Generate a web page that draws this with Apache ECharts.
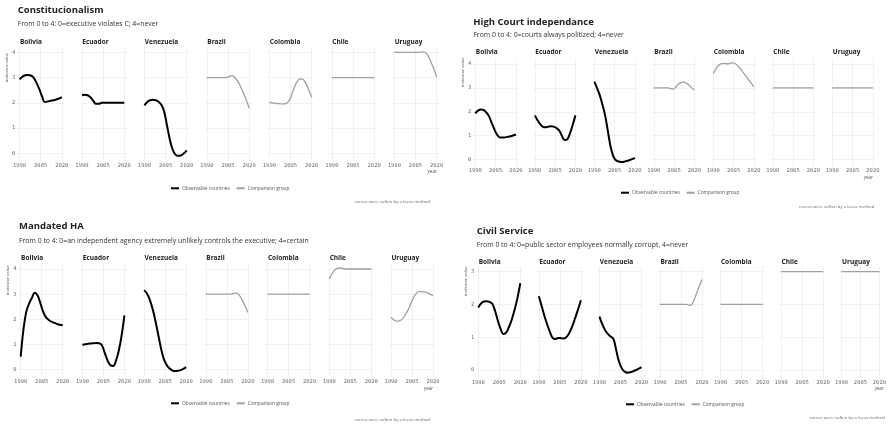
<!DOCTYPE html>
<html>
<head>
<meta charset="utf-8">
<script src="https://cdn.jsdelivr.net/npm/echarts@6/dist/echarts.min.js"></script>
<style>
  html, body { margin: 0; background: #fff; }
  #chart { width: 889px; height: 424px; }
</style>
</head>
<body>
<div id="chart"></div>
<script>
// every curve is sampled every two years
const years = [1990, 1992, 1994, 1996, 1998, 2000, 2002, 2004, 2006, 2008, 2010, 2012, 2014, 2016, 2018, 2020]
const countries = ['Bolivia', 'Ecuador', 'Venezuela', 'Brazil', 'Colombia', 'Chile', 'Uruguay']
const observableCountries = ['Bolivia', 'Ecuador', 'Venezuela']
const xTicks = [1990, 2005, 2020]
const yTicksFour = [0, 1, 2, 3, 4]
const yTicksThree = [0, 1, 2, 3]

// rows follow the countries order
const constitucionalism = [
  [2.93, 3.03, 3.09, 3.1, 3.08, 3.0, 2.8, 2.55, 2.25, 2.03, 2.05, 2.08, 2.1, 2.13, 2.17, 2.22],
  [2.3, 2.32, 2.3, 2.22, 2.08, 1.96, 1.96, 2.0, 2.0, 2.0, 2.0, 2.0, 2.0, 2.0, 2.0, 2.0],
  [1.9, 2.03, 2.1, 2.12, 2.1, 2.04, 1.92, 1.65, 1.1, 0.55, 0.15, -0.05, -0.1, -0.08, 0.0, 0.12],
  [3.0, 3.0, 3.0, 3.0, 3.0, 3.0, 3.0, 3.0, 3.05, 3.08, 2.98, 2.85, 2.62, 2.38, 2.1, 1.78],
  [2.03, 2.0, 1.98, 1.97, 1.96, 1.96, 1.98, 2.08, 2.35, 2.65, 2.87, 2.95, 2.92, 2.75, 2.5, 2.22],
  [3.0, 3.0, 3.0, 3.0, 3.0, 3.0, 3.0, 3.0, 3.0, 3.0, 3.0, 3.0, 3.0, 3.0, 3.0, 3.0],
  [4.0, 4.0, 4.0, 4.0, 4.0, 4.0, 4.0, 4.0, 4.0, 4.0, 4.02, 4.0, 3.85, 3.62, 3.35, 3.02]
]
const highCourt = [
  [1.93, 2.05, 2.1, 2.08, 1.98, 1.83, 1.55, 1.28, 1.05, 0.93, 0.92, 0.93, 0.95, 0.98, 1.01, 1.05],
  [1.85, 1.65, 1.48, 1.37, 1.35, 1.38, 1.4, 1.38, 1.32, 1.22, 1.0, 0.82, 0.85, 1.1, 1.45, 1.85],
  [3.26, 3.0, 2.7, 2.3, 1.85, 1.2, 0.55, 0.15, -0.03, -0.08, -0.1, -0.09, -0.06, -0.02, 0.02, 0.07],
  [3.0, 3.0, 3.0, 3.0, 3.0, 3.0, 2.98, 2.95, 3.02, 3.15, 3.22, 3.24, 3.2, 3.12, 3.0, 2.9],
  [3.6, 3.8, 3.95, 4.02, 4.03, 4.01, 4.02, 4.05, 4.03, 3.92, 3.8, 3.65, 3.5, 3.35, 3.2, 3.05],
  [3.0, 3.0, 3.0, 3.0, 3.0, 3.0, 3.0, 3.0, 3.0, 3.0, 3.0, 3.0, 3.0, 3.0, 3.0, 3.0],
  [3.0, 3.0, 3.0, 3.0, 3.0, 3.0, 3.0, 3.0, 3.0, 3.0, 3.0, 3.0, 3.0, 3.0, 3.0, 3.0]
]
const mandatedHA = [
  [0.5, 1.6, 2.3, 2.62, 2.85, 3.05, 2.95, 2.65, 2.3, 2.08, 1.97, 1.9, 1.85, 1.81, 1.78, 1.76],
  [0.98, 1.0, 1.02, 1.03, 1.04, 1.05, 1.04, 0.95, 0.65, 0.35, 0.16, 0.13, 0.35, 0.75, 1.35, 2.15],
  [3.15, 3.02, 2.78, 2.42, 1.95, 1.4, 0.85, 0.42, 0.18, 0.04, -0.04, -0.07, -0.06, -0.03, 0.02, 0.09],
  [3.0, 3.0, 3.0, 3.0, 3.0, 3.0, 3.0, 3.0, 3.0, 3.0, 3.03, 3.04, 2.95, 2.75, 2.52, 2.27],
  [3.0, 3.0, 3.0, 3.0, 3.0, 3.0, 3.0, 3.0, 3.0, 3.0, 3.0, 3.0, 3.0, 3.0, 3.0, 3.0],
  [3.6, 3.82, 3.96, 4.03, 4.04, 4.01, 4.0, 4.0, 4.0, 4.0, 4.0, 4.0, 4.0, 4.0, 4.0, 4.0],
  [2.08, 1.97, 1.92, 1.93, 2.0, 2.15, 2.35, 2.6, 2.85, 3.02, 3.1, 3.1, 3.08, 3.05, 3.0, 2.94]
]
const civilService = [
  [1.91, 2.03, 2.09, 2.1, 2.08, 2.02, 1.8, 1.5, 1.25, 1.1, 1.15, 1.32, 1.55, 1.85, 2.2, 2.65],
  [2.25, 1.95, 1.65, 1.38, 1.15, 0.97, 0.95, 0.98, 0.97, 0.96, 1.02, 1.15, 1.35, 1.6, 1.85, 2.13],
  [1.63, 1.4, 1.22, 1.1, 1.02, 0.95, 0.6, 0.25, 0.05, -0.05, -0.08, -0.07, -0.04, 0.0, 0.04, 0.09],
  [2.0, 2.0, 2.0, 2.0, 2.0, 2.0, 2.0, 2.0, 2.0, 2.0, 1.99, 1.97, 2.1, 2.33, 2.55, 2.76],
  [2.0, 2.0, 2.0, 2.0, 2.0, 2.0, 2.0, 2.0, 2.0, 2.0, 2.0, 2.0, 2.0, 2.0, 2.0, 2.0],
  [3.0, 3.0, 3.0, 3.0, 3.0, 3.0, 3.0, 3.0, 3.0, 3.0, 3.0, 3.0, 3.0, 3.0, 3.0, 3.0],
  [3.0, 3.0, 3.0, 3.0, 3.0, 3.0, 3.0, 3.0, 3.0, 3.0, 3.0, 3.0, 3.0, 3.0, 3.0, 3.0]
]

const OBS = 'Observable countries'
const CMP = 'Comparison group'
const sansFont = '"Open Sans", "Noto Sans", sans-serif'
const monoFont = '"DejaVu Sans Mono", monospace'
const gridColor = '#e8e8e8'
const tickColor = '#6e6e6e'

// layout of the four facet plots (pixels measured on the picture)
const panels = [
  { title: 'Constitucionalism', subtitle: 'From 0 to 4: 0=executive violates C; 4=never',
    values: constitucionalism, yTicks: yTicksFour, yMin: -0.3, yMax: 4.22,
    x1990: 19.5, ppy: 1.41, pitch: 62.47, topTickPx: 52.3, upy: 25.25,
    titleX: 17.7, titleY: 10, subY: 24, stripY: 41.7, ivX: 7, ivY: 67.5,
    legendX: 170, legendY: 188.3, capRight: 430, capY: 202, yearY: 172 },
  { title: 'High Court independance', subtitle: 'From 0 to 4: 0=courts always politized; 4=never',
    values: highCourt, yTicks: yTicksFour, yMin: -0.3, yMax: 4.25,
    x1990: 475.3, ppy: 1.353, pitch: 59.5, topTickPx: 64, upy: 23.9,
    titleX: 473.3, titleY: 22.7, subY: 35, stripY: 52.3, ivX: 462.5, ivY: 72,
    legendX: 620, legendY: 192.7, capRight: 874.3, capY: 206.7, yearY: 177.3 },
  { title: 'Mandated HA', subtitle: 'From 0 to 4: 0=an independent agency extremely unlikely controls the executive; 4=certain',
    values: mandatedHA, yTicks: yTicksFour, yMin: -0.3, yMax: 4.25,
    x1990: 20.7, ppy: 1.4, pitch: 61.72, topTickPx: 269, upy: 25.08,
    titleX: 19, titleY: 226.7, subY: 240.7, stripY: 258.3, ivX: 7.3, ivY: 280,
    legendX: 170, legendY: 403.3, capRight: 430, capY: 419.3, yearY: 388.3 },
  { title: 'Civil Service', subtitle: 'From 0 to 4: 0=public sector employees normally corrupt, 4=never',
    values: civilService, yTicks: yTicksThree, yMin: -0.26, yMax: 3.16,
    x1990: 478.3, ppy: 1.4, pitch: 60.57, topTickPx: 271.7, upy: 32.77,
    titleX: 476.7, titleY: 231, subY: 245, stripY: 261.7, ivX: 466, ivY: 281,
    legendX: 625, legendY: 404.3, capRight: 885, capY: 417.7, yearY: 389 }
]

const grids = []
const xAxes = []
const yAxes = []
const series = []
const graphics = []
const legends = []

const text = (str, x, y, opts) => ({
  type: 'text', silent: true, x, y, rotation: opts.rotation || 0,
  style: {
    text: str, font: opts.font, fill: opts.fill || '#222',
    textAlign: opts.align || 'left', textVerticalAlign: 'middle'
  }
})

panels.forEach(p => {
  const topTick = p.yTicks[p.yTicks.length - 1]
  const top = p.topTickPx - (p.yMax - topTick) * p.upy
  const height = (p.yMax - p.yMin) * p.upy
  const width = 33 * p.ppy
  let lastRight = 0

  countries.forEach((country, k) => {
    const idx = grids.length
    const left = p.x1990 + k * p.pitch - 1.5 * p.ppy
    lastRight = left + width
    grids.push({ left, top, width, height })
    xAxes.push({
      gridIndex: idx, type: 'value', min: 1988.5, max: 2021.5,
      axisLine: { show: false }, axisTick: { show: false, customValues: xTicks },
      axisLabel: {
        customValues: xTicks, formatter: v => String(v),
        fontFamily: monoFont, fontSize: 5.5, color: tickColor, margin: 1.3
      },
      splitLine: { show: true, lineStyle: { color: gridColor, width: 0.6 } }
    })
    yAxes.push({
      gridIndex: idx, type: 'value', min: p.yMin, max: p.yMax,
      axisLine: { show: false }, axisTick: { show: false, customValues: p.yTicks },
      axisLabel: {
        show: k === 0, customValues: p.yTicks, formatter: v => String(v),
        fontFamily: monoFont, fontSize: 5.5, color: tickColor, margin: 2
      },
      splitLine: { show: true, lineStyle: { color: gridColor, width: 0.6 } }
    })
    const isObs = observableCountries.includes(country)
    series.push({
      name: isObs ? OBS : CMP,
      type: 'line', xAxisIndex: idx, yAxisIndex: idx,
      data: years.map((yr, j) => [yr, p.values[k][j]]),
      smooth: 0.4, symbol: 'none', clip: false, silent: true,
      lineStyle: { color: isObs ? '#000' : '#a0a0a0', width: isObs ? 2 : 1.3 },
      itemStyle: { color: isObs ? '#000' : '#a0a0a0' }
    })
    graphics.push(text(country, left + 2.5, p.stripY, { font: 'bold 6.5px ' + sansFont, fill: '#222' }))
  })

  graphics.push(text(p.title, p.titleX, p.titleY, { font: 'bold 9.5px ' + sansFont, fill: '#222' }))
  graphics.push(text(p.subtitle, p.titleX, p.subY, { font: '6.9px ' + sansFont, fill: '#333' }))
  graphics.push(text('indicator value', p.ivX, p.ivY, { font: '4.3px ' + sansFont, fill: '#555', align: 'center', rotation: Math.PI / 2 }))
  graphics.push(text('year', lastRight - 2, p.yearY, { font: '4.5px ' + sansFont, fill: '#555', align: 'right' }))
  graphics.push(text('curves were soften by a loess method', p.capRight, p.capY, { font: '4.3px ' + sansFont, fill: '#666', align: 'right' }))

  legends.push({
    left: p.legendX, top: p.legendY - 2.5, padding: 0,
    itemWidth: 8, itemHeight: 5, itemGap: 6, selectedMode: false,
    itemStyle: { opacity: 0 },
    data: [OBS, CMP],
    textStyle: { fontFamily: sansFont, fontSize: 4.8, color: '#555', padding: [0, 0, 0, -2] }
  })
})

const chart = echarts.init(document.getElementById('chart'), null, { renderer: 'canvas' })
chart.setOption({
  animation: false,
  backgroundColor: '#fff',
  grid: grids,
  xAxis: xAxes,
  yAxis: yAxes,
  series,
  legend: legends,
  graphic: graphics
})
</script>
</body>
</html>
